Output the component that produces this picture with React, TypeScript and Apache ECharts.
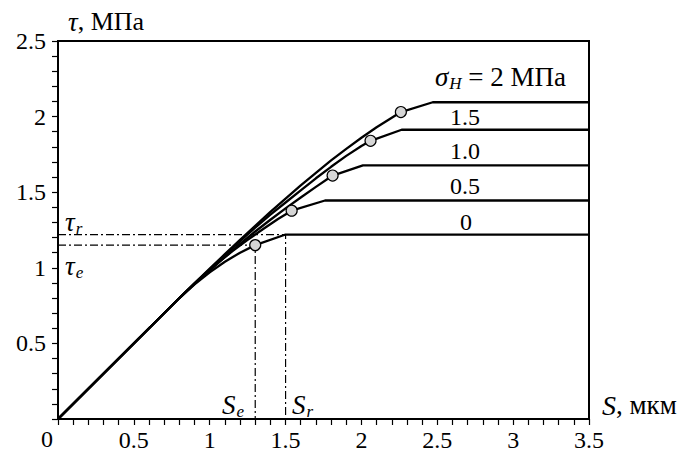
import React, { useEffect, useRef } from "react";
import * as echarts from "echarts";

const SERIF = "Liberation Serif";

const sigmaLabels = ["0", "0.5", "1.0", "1.5", "2"];

// Pre-peak (curved) parts of each curve: [S (мкм), τ (МПа)], ending at the marked point
const riseSigma0: [number, number][] = [
  [0, 0], [0.8, 0.8], [0.9, 0.89], [1.0, 0.97], [1.1, 1.04], [1.2, 1.1], [1.3, 1.15],
];
const riseSigma05: [number, number][] = [
  [0, 0], [0.85, 0.85], [0.95, 0.943], [1.05, 1.03], [1.15, 1.11], [1.25, 1.185], [1.35, 1.255], [1.45, 1.323], [1.54, 1.378],
];
const riseSigma10: [number, number][] = [
  [0, 0], [0.8, 0.8], [0.9, 0.893], [1.0, 0.982], [1.1, 1.072], [1.2, 1.158], [1.3, 1.24], [1.4, 1.318], [1.5, 1.393], [1.6, 1.465], [1.7, 1.535], [1.81, 1.61],
];
const riseSigma15: [number, number][] = [
  [0, 0], [0.8, 0.8], [0.9, 0.897], [1.0, 0.99], [1.1, 1.085], [1.2, 1.177], [1.3, 1.266], [1.4, 1.351], [1.5, 1.432], [1.6, 1.512], [1.7, 1.592], [1.8, 1.668], [1.9, 1.74], [2.0, 1.806], [2.06, 1.84],
];
const riseSigma20: [number, number][] = [
  [0, 0], [0.8, 0.8], [0.9, 0.898], [1.0, 0.995], [1.1, 1.09], [1.2, 1.185], [1.3, 1.278], [1.4, 1.37], [1.5, 1.458], [1.6, 1.545], [1.7, 1.628], [1.8, 1.71], [1.9, 1.787], [2.0, 1.86], [2.1, 1.93], [2.2, 1.993], [2.26, 2.03],
];

// Post-peak parts: marked point -> start of plateau -> end of axis
const tailSigma0: [number, number][] = [[1.3, 1.15], [1.5, 1.22], [3.5, 1.22]];
const tailSigma05: [number, number][] = [[1.54, 1.378], [1.76, 1.445], [3.5, 1.445]];
const tailSigma10: [number, number][] = [[1.81, 1.61], [2.01, 1.678], [3.5, 1.678]];
const tailSigma15: [number, number][] = [[2.06, 1.84], [2.265, 1.913], [3.5, 1.913]];
const tailSigma20: [number, number][] = [[2.26, 2.03], [2.47, 2.095], [3.5, 2.095]];

// Marked (circle) points
const criticalS = [1.3, 1.54, 1.81, 2.06, 2.26];
const criticalTau = [1.15, 1.378, 1.61, 1.84, 2.03];

// Reference values
const Se = 1.3;
const Sr = 1.5;
const tauE = 1.15;
const tauR = 1.22;

const rises = [riseSigma0, riseSigma05, riseSigma10, riseSigma15, riseSigma20];
const tails = [tailSigma0, tailSigma05, tailSigma10, tailSigma15, tailSigma20];

export default function App() {
  const ref = useRef<HTMLDivElement>(null);
  useEffect(() => {
    document.body.style.margin = "0";
    const chart = echarts.init(ref.current!, null, { renderer: "svg" });
    const tickLine = { color: "#000", width: 1.2 };
    const dashDot = { color: "#000", width: 1.2, type: [8, 3, 2, 3] as number[] };
    const sub = { fontFamily: SERIF, fontStyle: "italic", fontSize: 17, fill: "#000", padding: [12, 0, 0, 1] };
    const main = { fontFamily: SERIF, fontStyle: "italic", fontSize: 27, fill: "#000" };
    const curveLine = { color: "#000", width: 2.3 };
    const txt = (text: string, x: number, y: number) => ({
      type: "text", x, y,
      style: { text, fontFamily: SERIF, fontSize: 24, fill: "#000", align: "center", verticalAlign: "middle" },
    });
    const option: any = {
      animation: false,
      backgroundColor: "#fff",
      textStyle: { fontFamily: SERIF },
      grid: { left: 58, right: 95, top: 41, bottom: 32, show: true, borderColor: "#000", borderWidth: 2 },
      xAxis: {
        type: "value", min: 0, max: 3.5, interval: 0.5,
        name: "{i|S}{n|, мкм}", nameLocation: "end", nameGap: 13,
        nameTextStyle: {
          verticalAlign: "bottom",
          fontFamily: SERIF,
          rich: {
            i: { fontFamily: SERIF, fontStyle: "italic", fontSize: 28, color: "#000" },
            n: { fontFamily: SERIF, fontSize: 27, color: "#000" },
          },
        },
        axisLine: { lineStyle: { color: "#000", width: 2 } },
        axisTick: { length: 6, lineStyle: tickLine },
        minorTick: { show: true, splitNumber: 5, length: 6, lineStyle: tickLine },
        splitLine: { show: false },
        axisLabel: { color: "#000", fontFamily: SERIF, fontSize: 24, margin: 9, formatter: (v: number) => (v === 0 ? "" : String(v)) },
      },
      yAxis: {
        type: "value", min: 0, max: 2.5, interval: 0.5,
        name: "{i|τ}{n|, МПа}", nameLocation: "end", nameGap: 6,
        nameTextStyle: {
          align: "left", verticalAlign: "bottom", padding: [0, 0, 0, 10],
          fontFamily: SERIF,
          rich: {
            i: { fontFamily: SERIF, fontStyle: "italic", fontSize: 27, color: "#000" },
            n: { fontFamily: SERIF, fontSize: 26, color: "#000" },
          },
        },
        axisLine: { lineStyle: { color: "#000", width: 2 } },
        axisTick: { length: 6, lineStyle: tickLine },
        minorTick: { show: true, splitNumber: 5, length: 6, lineStyle: tickLine },
        splitLine: { show: false },
        axisLabel: { color: "#000", fontFamily: SERIF, fontSize: 24, margin: 12, formatter: (v: number) => (v === 0 ? "" : String(v)) },
      },
      series: [
        ...rises.map((c, i) => ({ type: "line", name: "σH = " + sigmaLabels[i], data: c, symbol: "none", lineStyle: curveLine, z: 3 })),
        ...tails.map((c, i) => ({ type: "line", name: "σH = " + sigmaLabels[i] + " (tail)", data: c, symbol: "none", lineStyle: curveLine, z: 3 })),
        { type: "line", name: "r", data: [[0, tauR], [Sr, tauR], [Sr, 0]], symbol: "none", lineStyle: dashDot, z: 2 },
        { type: "line", name: "e", data: [[0, tauE], [Se, tauE], [Se, 0]], symbol: "none", lineStyle: dashDot, z: 2 },
        {
          type: "scatter", data: criticalS.map((s, i) => [s, criticalTau[i]]), symbol: "circle", symbolSize: 11,
          itemStyle: { color: "#d6d6d6", borderColor: "#000", borderWidth: 1.2, opacity: 1 }, z: 5,
        },
      ],
      graphic: [
        txt("0", 47, 439),
        {
          type: "text", x: 435, y: 77,
          style: {
            text: "{m|σ}{s|H}{n| = 2 МПа}", fontFamily: SERIF, verticalAlign: "middle", align: "left",
            rich: { m: main, s: sub, n: { fontFamily: SERIF, fontSize: 27, fill: "#000" } },
          },
        },
        txt("1.5", 465, 117),
        txt("1.0", 465, 151),
        txt("0.5", 465, 186),
        txt("0", 466, 222),
        { type: "text", x: 65, y: 222, style: { text: "{m|τ}{s|r}", fontFamily: SERIF, align: "left", verticalAlign: "middle", rich: { m: main, s: sub } } },
        { type: "text", x: 65, y: 266, style: { text: "{m|τ}{s|e}", fontFamily: SERIF, align: "left", verticalAlign: "middle", rich: { m: main, s: sub } } },
        { type: "text", x: 222, y: 405, style: { text: "{m|S}{s|e}", fontFamily: SERIF, align: "left", verticalAlign: "middle", rich: { m: main, s: sub } } },
        { type: "text", x: 292, y: 405, style: { text: "{m|S}{s|r}", fontFamily: SERIF, align: "left", verticalAlign: "middle", rich: { m: main, s: sub } } },
      ],
    };
    chart.setOption(option);
    return () => chart.dispose();
  }, []);
  return <div ref={ref} style={{ width: 684, height: 452 }} />;
}
